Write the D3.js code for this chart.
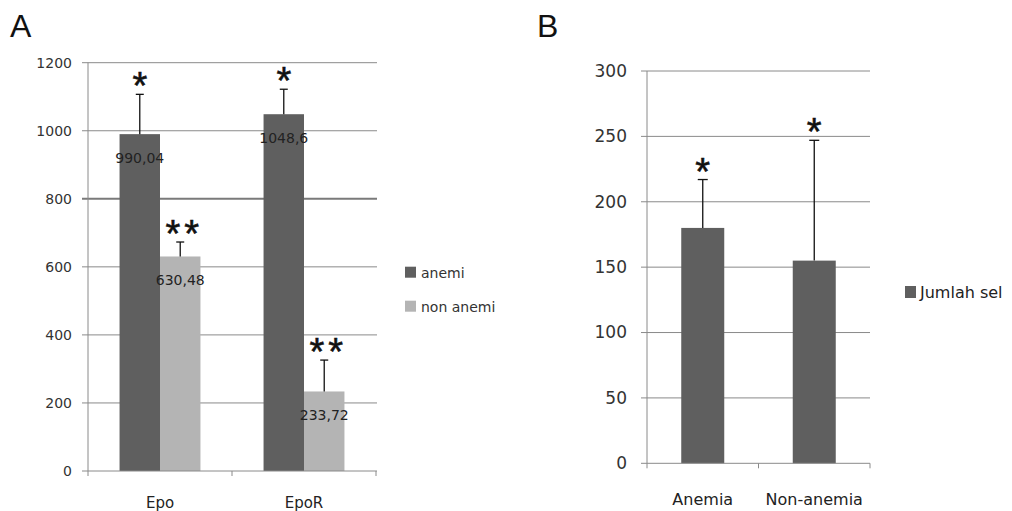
<!DOCTYPE html>
<html>
<head>
  <meta charset="UTF-8">
  <title>Epo / EpoR</title>
  <style>
    body { margin: 0; background: #fff; }
    svg { font-family: "DejaVu Sans", sans-serif; }
    .star { font-family: "Liberation Sans", Arial, sans-serif; stroke: #111; stroke-width: 0.6; }
  </style>
</head>
<body>
  <div id="chart"></div>
  <script src="https://cdn.jsdelivr.net/npm/d3@7"></script>
  <script>
    // panel A
    const genes = ["Epo", "EpoR"];
    const groupsA = ["anemi", "non anemi"];
    const colorsA = ["#5f5f5f", "#b4b4b4"];
    const anemiVals = [990.04, 1048.6];
    const nonAnemiVals = [630.48, 233.72];
    const anemiErr = [1107, 1122];
    const nonAnemiErr = [673, 326];
    const anemiLabels = ["990,04", "1048,6"];
    const nonAnemiLabels = ["630,48", "233,72"];
    const starsA = ["*", "**"];
    const ticksA = [0, 200, 400, 600, 800, 1000, 1200];

    // panel B
    const groupsB = ["Anemia", "Non-anemia"];
    const jumlahSel = [180, 155];
    const jumlahErr = [217, 247];
    const starsB = ["*", "*"];
    const ticksB = [0, 50, 100, 150, 200, 250, 300];

    const svg = d3.select("#chart").append("svg")
      .attr("width", 1012).attr("height", 511);

    svg.append("text").attr("x", 10).attr("y", 37)
      .attr("font-family", "Liberation Sans, Arial, sans-serif")
      .attr("font-size", 32).attr("fill", "#111").text("A");
    svg.append("text").attr("x", 537).attr("y", 37)
      .attr("font-family", "Liberation Sans, Arial, sans-serif")
      .attr("font-size", 32).attr("fill", "#111").text("B");

    const starFs = 38;
    const starDy = 5;

    // ---------- A ----------
    const yA = d3.scaleLinear().domain([0, 1200]).range([471, 62.7]);
    const x0 = d3.scaleBand().domain(genes).range([88, 376]);
    const x1 = d3.scaleBand().domain(groupsA).range([0, x0.bandwidth()]).paddingOuter(0.78);

    const gA = svg.append("g");
    gA.selectAll(".grid").data(ticksA.slice(1)).enter().append("line")
      .attr("x1", 82).attr("x2", 377)
      .attr("y1", d => yA(d)).attr("y2", d => yA(d))
      .attr("stroke", d => d === 800 ? "#7a7a7a" : "#8a8a8a")
      .attr("stroke-width", d => d === 800 ? 2 : 1);

    const axA = gA.append("g").attr("transform", "translate(88,0)")
      .call(d3.axisLeft(yA).tickValues(ticksA).tickFormat(d3.format("d")).tickSize(0).tickPadding(16));
    axA.select(".domain").remove();
    axA.attr("font-family", null).attr("font-size", null);
    axA.selectAll("text").attr("font-size", 14).attr("fill", "#333");

    const series = [
      { vals: anemiVals, err: anemiErr, labels: anemiLabels, star: starsA[0] },
      { vals: nonAnemiVals, err: nonAnemiErr, labels: nonAnemiLabels, star: starsA[1] }
    ];
    series.forEach((s, si) => {
      const g = gA.append("g");
      const bx = (d, i) => x0(genes[i]) + x1(groupsA[si]);
      const cx = (d, i) => bx(d, i) + x1.bandwidth() / 2;
      g.selectAll("rect").data(s.vals).enter().append("rect")
        .attr("x", bx).attr("width", x1.bandwidth())
        .attr("y", d => yA(d)).attr("height", d => yA(0) - yA(d))
        .attr("fill", colorsA[si]);
      g.selectAll(".err").data(s.err).enter().append("line")
        .attr("x1", cx).attr("x2", cx)
        .attr("y1", (d, i) => yA(s.vals[i])).attr("y2", d => yA(d))
        .attr("stroke", "#111").attr("stroke-width", 1.3);
      g.selectAll(".cap").data(s.err).enter().append("line")
        .attr("x1", (d, i) => cx(d, i) - 4).attr("x2", (d, i) => cx(d, i) + 4)
        .attr("y1", d => yA(d)).attr("y2", d => yA(d))
        .attr("stroke", "#111").attr("stroke-width", 1.3);
      g.selectAll(".lbl").data(s.labels).enter().append("text")
        .attr("x", cx).attr("y", (d, i) => yA(s.vals[i]) + 29)
        .attr("text-anchor", "middle").attr("font-size", 14).attr("fill", "#222")
        .text(d => d);
      g.selectAll(".star").data(s.err).enter().append("text")
        .attr("class", "star")
        .attr("x", (d, i) => cx(d, i) + (si === 1 ? 4 : 0)).attr("y", d => yA(d) + starDy)
        .attr("text-anchor", "middle").attr("font-size", starFs).attr("fill", "#111")
        .attr("letter-spacing", si === 1 ? 4 : 0)
        .text(s.star);
    });

    gA.append("line").attr("x1", 88).attr("x2", 88)
      .attr("y1", yA(1200)).attr("y2", yA(0)).attr("stroke", "#8a8a8a");
    gA.append("line").attr("x1", 82).attr("x2", 377)
      .attr("y1", yA(0)).attr("y2", yA(0)).attr("stroke", "#8a8a8a");
    gA.selectAll(".xt").data([88, x0("EpoR"), 376]).enter().append("line")
      .attr("x1", d => d).attr("x2", d => d)
      .attr("y1", yA(0)).attr("y2", yA(0) + 5).attr("stroke", "#8a8a8a");
    gA.selectAll(".xl").data(genes).enter().append("text")
      .attr("x", d => x0(d) + x0.bandwidth() / 2).attr("y", 508)
      .attr("text-anchor", "middle").attr("font-size", 15).attr("fill", "#222")
      .text(d => d);

    const legA = gA.selectAll(".leg").data(groupsA).enter().append("g")
      .attr("transform", (d, i) => `translate(405,${272.7 + i * 34})`);
    legA.append("rect").attr("x", 0).attr("y", -6).attr("width", 11).attr("height", 11)
      .attr("fill", (d, i) => colorsA[i]);
    legA.append("text").attr("x", 16).attr("y", 5)
      .attr("font-size", 14).attr("fill", "#333").text(d => d);

    // ---------- B ----------
    const yB = d3.scaleLinear().domain([0, 300]).range([463.3, 71]);
    const xB = d3.scaleBand().domain(groupsB).range([647, 870]);
    const barW = 43;

    const gB = svg.append("g");
    gB.selectAll(".grid").data(ticksB.slice(1)).enter().append("line")
      .attr("x1", 641).attr("x2", 870)
      .attr("y1", d => yB(d)).attr("y2", d => yB(d))
      .attr("stroke", "#8a8a8a");
    const axB = gB.append("g").attr("transform", "translate(647,0)")
      .call(d3.axisLeft(yB).tickValues(ticksB).tickSize(0).tickPadding(20));
    axB.select(".domain").remove();
    axB.attr("font-family", null).attr("font-size", null);
    axB.selectAll("text").attr("font-size", 17).attr("fill", "#333");

    const cB = d => xB(d) + xB.bandwidth() / 2;
    gB.selectAll("rect").data(jumlahSel).enter().append("rect")
      .attr("x", (d, i) => cB(groupsB[i]) - barW / 2).attr("width", barW)
      .attr("y", d => yB(d)).attr("height", d => yB(0) - yB(d))
      .attr("fill", "#5f5f5f");
    gB.selectAll(".err").data(jumlahErr).enter().append("line")
      .attr("x1", (d, i) => cB(groupsB[i])).attr("x2", (d, i) => cB(groupsB[i]))
      .attr("y1", (d, i) => yB(jumlahSel[i])).attr("y2", d => yB(d))
      .attr("stroke", "#111").attr("stroke-width", 1.3);
    gB.selectAll(".cap").data(jumlahErr).enter().append("line")
      .attr("x1", (d, i) => cB(groupsB[i]) - 5).attr("x2", (d, i) => cB(groupsB[i]) + 5)
      .attr("y1", d => yB(d)).attr("y2", d => yB(d))
      .attr("stroke", "#111").attr("stroke-width", 1.3);
    gB.selectAll(".star").data(jumlahErr).enter().append("text")
      .attr("class", "star")
      .attr("x", (d, i) => cB(groupsB[i])).attr("y", d => yB(d) + starDy)
      .attr("text-anchor", "middle").attr("font-size", starFs).attr("fill", "#111")
      .text((d, i) => starsB[i]);

    gB.append("line").attr("x1", 647).attr("x2", 647)
      .attr("y1", yB(300)).attr("y2", yB(0)).attr("stroke", "#8a8a8a");
    gB.append("line").attr("x1", 641).attr("x2", 870)
      .attr("y1", yB(0)).attr("y2", yB(0)).attr("stroke", "#8a8a8a");
    gB.selectAll(".xt").data([647, xB("Non-anemia"), 870]).enter().append("line")
      .attr("x1", d => d).attr("x2", d => d)
      .attr("y1", yB(0)).attr("y2", yB(0) + 5).attr("stroke", "#8a8a8a");
    gB.selectAll(".xl").data(groupsB).enter().append("text")
      .attr("x", d => cB(d)).attr("y", 505)
      .attr("text-anchor", "middle").attr("font-size", 16).attr("fill", "#222")
      .text(d => d);

    const legB = gB.append("g").attr("transform", "translate(905,292)");
    legB.append("rect").attr("x", 0).attr("y", -6).attr("width", 11).attr("height", 12)
      .attr("fill", "#5f5f5f");
    legB.append("text").attr("x", 15).attr("y", 6)
      .attr("font-size", 16).attr("fill", "#222").text("Jumlah sel");
  </script>
</body>
</html>
